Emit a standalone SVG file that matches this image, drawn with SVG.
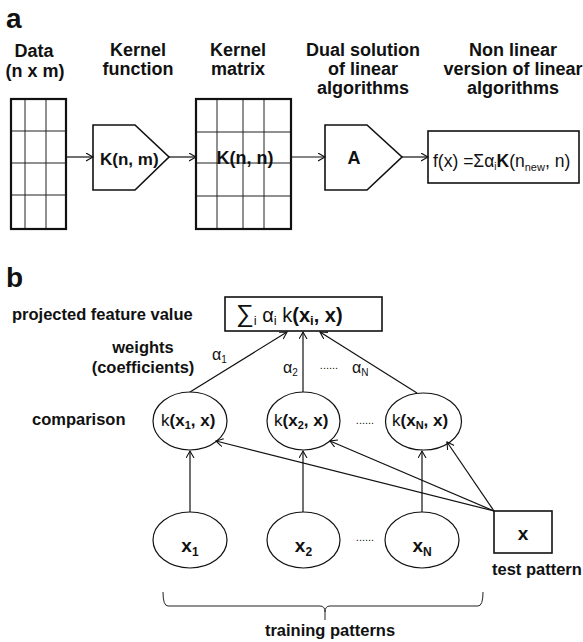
<svg xmlns="http://www.w3.org/2000/svg" width="583" height="642" viewBox="0 0 583 642">
<style>
text{font-family:"Liberation Sans",Arial,sans-serif;fill:#111}
.hd{font-size:18px;font-weight:bold;text-anchor:middle}
.lb{font-size:16.5px;font-weight:bold}
.pl{font-size:28px;font-weight:bold}
.b{font-weight:bold}
.thin{fill:none;stroke:#222;stroke-width:1}
.thick{fill:none;stroke:#111;stroke-width:2.2}
.shape{fill:#fff;stroke:#111;stroke-width:1.6}
.ell{fill:#fff;stroke:#111;stroke-width:1.2}
.con{fill:none;stroke:#111;stroke-width:1.2;marker-end:url(#arr)}
.dots{font-size:11px;text-anchor:middle}
</style>
<defs>
<marker id="arr" markerUnits="userSpaceOnUse" markerWidth="10" markerHeight="10" refX="7" refY="4" orient="auto">
<path d="M0,0 L7,4 L0,8" fill="none" stroke="#111" stroke-width="1.1"/>
</marker>
</defs>

<!-- Panel a -->
<text class="pl" x="6" y="28">a</text>
<g id="hdr-data"><text class="hd" x="34" y="57">Data</text><text class="hd" x="35" y="77">(n x m)</text></g>
<g id="hdr-kf"><text class="hd" x="138" y="56">Kernel</text><text class="hd" x="138" y="75">function</text></g>
<g id="hdr-km"><text class="hd" x="238" y="56">Kernel</text><text class="hd" x="238" y="75">matrix</text></g>
<g id="hdr-dual"><text class="hd" x="363" y="56">Dual solution</text><text class="hd" x="363" y="75">of linear</text><text class="hd" x="363" y="94">algorithms</text></g>
<g id="hdr-nl"><text class="hd" x="513" y="56">Non linear</text><text class="hd" x="513" y="75">version of linear</text><text class="hd" x="513" y="94">algorithms</text></g>

<g id="data-grid">
<rect x="11" y="99" width="55" height="130" fill="#fff"/>
<path class="thin" d="M25,99V229M46,99V229M11,131H66M11,163H66M11,195H66"/>
<rect class="thick" x="11" y="99" width="55" height="130"/>
</g>
<g id="kernel-function">
<polygon class="shape" points="93,125 135,125 169,157 135,190 93,190"/>
<text class="b" x="100" y="165" font-size="17">K(n, m)</text>
</g>
<g id="kernel-matrix">
<rect x="196" y="99" width="95" height="130" fill="#fff"/>
<path class="thin" d="M217,99V229M243,99V229M264,99V229M196,132H291M196,163H291M196,196H291"/>
<rect class="thick" x="196" y="99" width="95" height="130"/>
<text class="b" x="245" y="164" font-size="18" text-anchor="middle">K(n, n)</text>
</g>
<g id="dual-A">
<polygon class="shape" points="325,125 367,125 402,157 367,190 325,190"/>
<text class="b" x="354" y="164" font-size="18" text-anchor="middle">A</text>
</g>
<g id="nonlinear-box">
<rect class="shape" x="428" y="131" width="151" height="52"/>
<text x="433" y="167" font-size="17.5">f(x) =Σα<tspan font-size="10" dy="3">i</tspan><tspan class="b" dy="-3">K</tspan>(n<tspan font-size="11" dy="4">new</tspan><tspan dy="-4">, n)</tspan></text>
</g>

<g id="connectors-a">
<line class="con" x1="67" y1="157" x2="93" y2="157"/>
<line class="con" x1="169" y1="157" x2="196" y2="157"/>
<line class="con" x1="292" y1="157" x2="325" y2="157"/>
<line class="con" x1="402" y1="157" x2="428" y2="157"/>
</g>

<!-- Panel b -->
<text class="pl" x="6" y="287" font-size="26">b</text>
<text class="lb" x="12" y="320">projected feature value</text>
<text class="lb" x="143" y="353" text-anchor="middle">weights</text>
<text class="lb" x="143" y="373" text-anchor="middle">(coefficients)</text>
<text class="lb" x="32" y="425">comparison</text>

<g id="sum-box">
<rect class="shape" x="225" y="297" width="157" height="34"/>
<text x="236" y="322" font-size="20"><tspan font-size="25">∑</tspan><tspan font-size="13" dy="3">i</tspan><tspan dy="-3"> α</tspan><tspan font-size="13" dy="3">i</tspan><tspan dy="-3"> k</tspan><tspan class="b">(x</tspan><tspan class="b" font-size="13" dy="3">i</tspan><tspan class="b" dy="-3">, x)</tspan></text>
</g>

<g id="k1">
<ellipse class="ell" cx="190" cy="421" rx="37" ry="29"/>
<text x="161" y="426" font-size="17">k<tspan class="b">(x</tspan><tspan class="b" font-size="11" dy="3">1</tspan><tspan class="b" dy="-3">, x)</tspan></text>
</g>
<g id="k2">
<ellipse class="ell" cx="303.5" cy="421" rx="36.5" ry="29"/>
<text x="274" y="426" font-size="17">k<tspan class="b">(x</tspan><tspan class="b" font-size="11" dy="3">2</tspan><tspan class="b" dy="-3">, x)</tspan></text>
</g>
<g id="kN">
<ellipse class="ell" cx="423.5" cy="421.5" rx="38" ry="28.5"/>
<text x="392" y="426" font-size="17">k<tspan class="b">(x</tspan><tspan class="b" font-size="11" dy="3">N</tspan><tspan class="b" dy="-3">, x)</tspan></text>
</g>
<g id="x1">
<ellipse class="ell" cx="190" cy="540" rx="37" ry="28"/>
<text class="b" x="190" y="552" font-size="19" text-anchor="middle">x<tspan font-size="12" dy="4">1</tspan></text>
</g>
<g id="x2">
<ellipse class="ell" cx="303.5" cy="540" rx="36.5" ry="28"/>
<text class="b" x="303.5" y="552" font-size="19" text-anchor="middle">x<tspan font-size="12" dy="4">2</tspan></text>
</g>
<g id="xN">
<ellipse class="ell" cx="422" cy="540" rx="37" ry="28"/>
<text class="b" x="422" y="552" font-size="19" text-anchor="middle">x<tspan font-size="12" dy="4">N</tspan></text>
</g>
<g id="test-x">
<rect class="shape" x="494" y="511" width="58" height="42"/>
<text class="b" x="523" y="540" font-size="19" text-anchor="middle">x</text>
<text class="lb" x="492" y="575" font-size="17">test pattern</text>
</g>

<text x="212" y="360" font-size="16">α<tspan font-size="10" dy="3">1</tspan></text>
<text x="283" y="373" font-size="16">α<tspan font-size="10" dy="3">2</tspan></text>
<text x="352" y="373" font-size="16">α<tspan font-size="10" dy="3">N</tspan></text>
<text class="dots" x="329" y="369">......</text>
<text class="dots" x="365" y="424">......</text>
<text class="dots" x="365" y="541">......</text>

<g id="connectors-b">
<line class="con" x1="190" y1="392" x2="287" y2="332"/>
<line class="con" x1="303" y1="392" x2="303" y2="332"/>
<line class="con" x1="417" y1="393" x2="320" y2="332"/>
<line class="con" x1="190" y1="512" x2="190" y2="451"/>
<line class="con" x1="303" y1="512" x2="303" y2="451"/>
<line class="con" x1="422" y1="512" x2="422" y2="451"/>
<line class="con" x1="494" y1="511" x2="216" y2="441"/>
<line class="con" x1="494" y1="511" x2="330" y2="441"/>
<line class="con" x1="494" y1="511" x2="447" y2="442"/>
</g>

<g id="brace">
<path class="thin" stroke-width="1.3" d="M163,592 Q163,606 168,606 H320 Q325,606 325,612 V620 M325,612 Q325,606 330,606 H478 Q483,606 483,592"/>
</g>
<text class="lb" x="330" y="636" font-size="17" text-anchor="middle">training patterns</text>
</svg>
